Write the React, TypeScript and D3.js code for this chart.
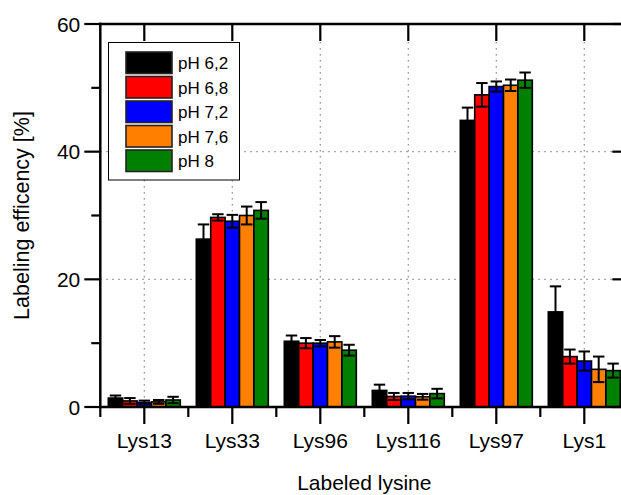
import React from "react";
import * as d3 from "d3";

// Labeled lysine positions and pH conditions
const categories = ["Lys13", "Lys33", "Lys96", "Lys116", "Lys97", "Lys1"];
const seriesNames = ["pH 6,2", "pH 6,8", "pH 7,2", "pH 7,6", "pH 8"];
const seriesColors = ["#000000", "#ff0000", "#0000ff", "#ff8000", "#008000"];

// Labeling efficiency (%) per lysine, one array per pH
const ph62 = [1.4, 26.3, 10.3, 2.6, 44.9, 14.9];
const ph68 = [0.95, 29.7, 10.0, 1.65, 48.9, 7.9];
const ph72 = [0.7, 29.1, 10.0, 1.7, 50.2, 7.2];
const ph76 = [0.8, 30.0, 10.2, 1.6, 50.4, 5.9];
const ph80 = [1.1, 30.8, 8.9, 2.1, 51.2, 5.7];

// Standard deviations
const err62 = [0.4, 2.3, 0.9, 0.9, 2.0, 4.0];
const err68 = [0.45, 0.5, 0.8, 0.55, 1.85, 1.1];
const err72 = [0.3, 1.0, 0.5, 0.5, 0.8, 1.5];
const err76 = [0.3, 1.4, 0.9, 0.45, 0.9, 2.0];
const err80 = [0.5, 1.3, 0.85, 0.75, 1.2, 1.1];

const yMajorTicks = [0, 20, 40, 60];
const yMinorTicks = [10, 30, 50];

const xTitle = "Labeled lysine";
const yTitle = "Labeling efficency [%]";

const values = [ph62, ph68, ph72, ph76, ph80];
const errors = [err62, err68, err72, err76, err80];

const W = 621;
const H = 495;
const left = 100.3;
const right = 628.3;
const top = 24;
const bottom = 407;

const FONT = "'Liberation Sans', Arial, Helvetica, sans-serif";

export default function App() {
  const x0 = d3.scaleBand<string>().domain(categories).range([left, right]).padding(0);
  const x1 = d3
    .scaleBand<string>()
    .domain(seriesNames)
    .range([8, x0.bandwidth() - 8])
    .padding(0);
  const y = d3.scaleLinear().domain([0, 60]).range([bottom, top]);

  const grid = "#8c8c8c";
  const bandEdges = categories.map((c) => x0(c)!).concat([right]);

  return (
    <svg
      width={W}
      height={H}
      style={{ position: "absolute", left: 0, top: 0, background: "#fff" }}
      fontFamily={FONT}
    >
      <rect x={0} y={0} width={W} height={H} fill="#fff" />

      {/* dotted grid */}
      {categories.map((c) => {
        const cx = x0(c)! + x0.bandwidth() / 2;
        return (
          <line
            key={"gx" + c}
            x1={cx}
            x2={cx}
            y1={top}
            y2={bottom}
            stroke={grid}
            strokeWidth={1.2}
            strokeDasharray="1.5,4.5"
          />
        );
      })}
      {[20, 40].map((v) => (
        <line
          key={"gy" + v}
          x1={left}
          x2={right}
          y1={y(v)}
          y2={y(v)}
          stroke={grid}
          strokeWidth={1.2}
          strokeDasharray="1.5,4.5"
        />
      ))}

      {/* bars with symmetric error bars */}
      {categories.map((c, ci) => (
        <g key={"g" + c} transform={`translate(${x0(c)},0)`}>
          {seriesNames.map((s, si) => {
            const v = values[si][ci];
            const e = errors[si][ci];
            const bx = x1(s)!;
            const bw = x1.bandwidth();
            const cx = bx + bw / 2;
            const capW = bw - 3;
            const lo = Math.max(0, v - e);
            return (
              <g key={s}>
                <rect
                  x={bx}
                  y={y(v)}
                  width={bw}
                  height={y(0) - y(v)}
                  fill={seriesColors[si]}
                  stroke="#000"
                  strokeWidth={1.6}
                />
                <line x1={cx} x2={cx} y1={y(v + e)} y2={y(lo)} stroke="#000" strokeWidth={2} />
                <line x1={cx - capW / 2} x2={cx + capW / 2} y1={y(v + e)} y2={y(v + e)} stroke="#000" strokeWidth={2} />
                <line x1={cx - capW / 2} x2={cx + capW / 2} y1={y(lo)} y2={y(lo)} stroke="#000" strokeWidth={2} />
              </g>
            );
          })}
        </g>
      ))}

      {/* frame */}
      <g stroke="#000" strokeWidth={2.5} fill="none">
        <line x1={left} x2={left} y1={top - 1.2} y2={bottom + 1.2} />
        <line x1={left - 1.2} x2={right} y1={bottom} y2={bottom} />
        <line x1={left - 1.2} x2={right} y1={top} y2={top} />
        <line x1={right} x2={right} y1={top} y2={bottom} />
      </g>

      <g stroke="#000" strokeWidth={2.2}>
        {/* left axis ticks */}
        {yMajorTicks.map((v) => (
          <line key={"ym" + v} x1={left - 16} x2={left} y1={y(v)} y2={y(v)} />
        ))}
        {yMinorTicks.map((v) => (
          <line key={"yn" + v} x1={left - 9} x2={left} y1={y(v)} y2={y(v)} />
        ))}
        {/* right axis, inward */}
        {yMajorTicks.map((v) => (
          <line key={"yr" + v} x1={right - 16} x2={right} y1={y(v)} y2={y(v)} />
        ))}
        {/* bottom axis */}
        {categories.map((c) => {
          const cx = x0(c)! + x0.bandwidth() / 2;
          return <line key={"xm" + c} x1={cx} x2={cx} y1={bottom} y2={bottom + 17} />;
        })}
        {bandEdges.map((bx, i) => (
          <line key={"xn" + i} x1={bx} x2={bx} y1={bottom} y2={bottom + 10} />
        ))}
        {/* top axis, inward */}
        {categories.map((c) => {
          const cx = x0(c)! + x0.bandwidth() / 2;
          return <line key={"xt" + c} x1={cx} x2={cx} y1={top} y2={top + 17} />;
        })}
      </g>

      {/* tick labels */}
      {yMajorTicks.map((v) => (
        <text
          key={"yl" + v}
          x={left - 20}
          y={y(v)}
          dy="0.36em"
          textAnchor="end"
          fontSize={21}
          fill="#000"
        >
          {v}
        </text>
      ))}
      {categories.map((c) => (
        <text
          key={"xl" + c}
          x={x0(c)! + x0.bandwidth() / 2}
          y={448}
          textAnchor="middle"
          fontSize={21}
          fill="#000"
        >
          {c}
        </text>
      ))}

      {/* axis titles */}
      <text x={(left + right) / 2} y={490} textAnchor="middle" fontSize={21} fill="#000">
        {xTitle}
      </text>
      <text
        transform={`translate(${29},${(top + bottom) / 2}) rotate(-90)`}
        textAnchor="middle"
        fontSize={21.5}
        fill="#000"
      >
        {yTitle}
      </text>

      {/* legend */}
      <g>
        <rect x={108.5} y={42.5} width={131} height={137.5} fill="#fff" stroke="#000" strokeWidth={1} />
        {seriesNames.map((s, i) => (
          <g key={"lg" + s} transform={`translate(126,${52 + i * 24.5})`}>
            <rect x={0} y={0} width={46} height={21.5} fill={seriesColors[i]} stroke="#222" strokeWidth={1.6} />
            <text x={52} y={11} dy="0.36em" fontSize={17} fill="#000">
              {s}
            </text>
          </g>
        ))}
      </g>
    </svg>
  );
}
